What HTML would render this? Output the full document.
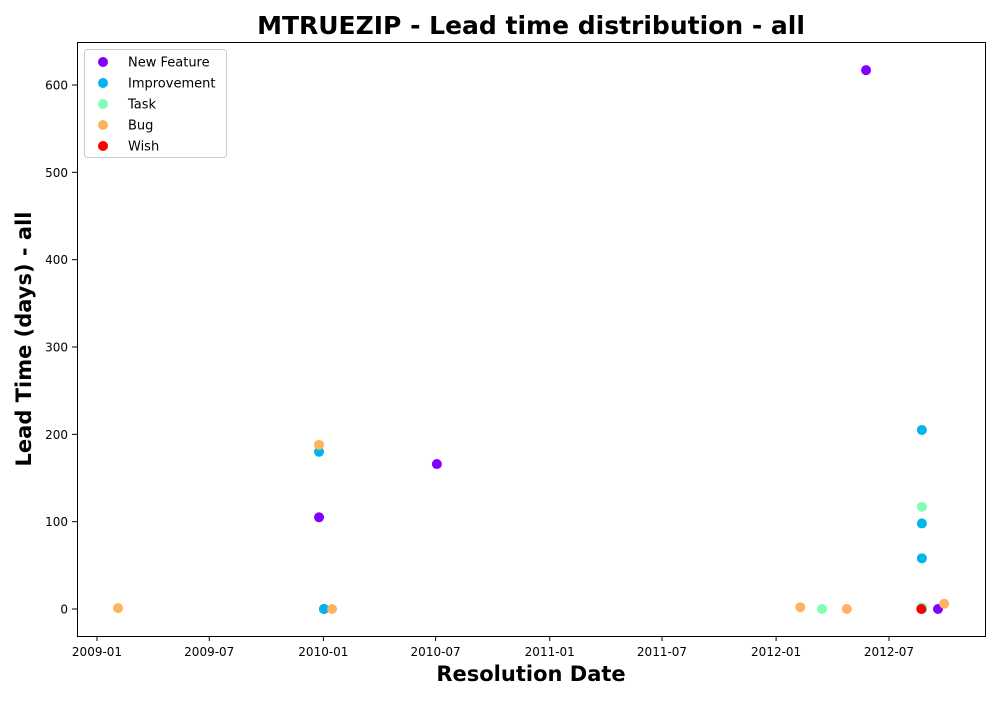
<!DOCTYPE html>
<html><head><meta charset="utf-8"><style>
body{margin:0;background:#fff;font-family:"Liberation Sans","DejaVu Sans",sans-serif;}
</style></head><body>
<svg id="chart" width="1000" height="700" xmlns="http://www.w3.org/2000/svg" font-family="DejaVu Sans, Liberation Sans, sans-serif">
<rect width="1000" height="700" fill="#fff"/>
<text x="531" y="34" text-anchor="middle" font-size="25" font-weight="bold">MTRUEZIP - Lead time distribution - all</text>
<text x="531" y="681" text-anchor="middle" font-size="21" font-weight="bold">Resolution Date</text>
<text transform="translate(31,339) rotate(-90)" text-anchor="middle" font-size="21" font-weight="bold">Lead Time (days) - all</text>
<g id="ticks"></g>
<g id="points"></g>
<rect x="77.5" y="42.5" width="908" height="594" fill="none" stroke="#000" stroke-width="1"/>
<g id="legend"></g>
</svg>
<script>
const seriesNames=["New Feature","Improvement","Task","Bug","Wish"];
const seriesColors=["#8000ff","#00b4ec","#80ffb4","#ffb360","#ff0000"];
const newFeatureDates=["2009-12-25","2010-07-03","2012-05-25","2012-09-18","2010-01-02"];
const newFeatureValues=[105,166,617,0,0];
const improvementDates=["2009-12-25","2010-01-02","2012-08-23","2012-08-23","2012-08-23","2012-08-23"];
const improvementValues=[180,0,205,98,58,0];
const taskDates=["2012-03-15","2012-08-23","2012-08-23"];
const taskValues=[0,117,2];
const bugDates=["2009-02-04","2009-12-25","2010-01-15","2012-02-09","2012-04-24","2012-09-28"];
const bugValues=[1,188,0,2,0,6];
const wishDates=["2012-08-22"];
const wishValues=[0];
const xTickLabels=["2009-01","2009-07","2010-01","2010-07","2011-01","2011-07","2012-01","2012-07"];
const yTickValues=[0,100,200,300,400,500,600];

const NS="http://www.w3.org/2000/svg";
const day=86400000;
const t0=Date.UTC(2009,0,1);
function xScale(s){const p=s.split("-").map(Number);const d=(Date.UTC(p[0],p[1]-1,p[2]||1)-t0)/day;return 97+d*0.62020;}
function yScale(v){return 609-v*0.87333;}
function mk(tag,attrs,parent){const e=document.createElementNS(NS,tag);for(const k in attrs)e.setAttribute(k,attrs[k]);parent.appendChild(e);return e;}
const ticks=document.getElementById("ticks");
xTickLabels.forEach(l=>{const x=xScale(l);
 const tk=mk("line",{x1:x,x2:x,y1:636,y2:641,stroke:"#000"},ticks);
 
 
 const t=mk("text",{x:x,y:656,"text-anchor":"middle","font-size":"12"},ticks);t.textContent=l;
 
 });
yTickValues.forEach(v=>{const y=yScale(v);
 const tk=mk("line",{x1:72,x2:77,y1:y,y2:y,stroke:"#000"},ticks);
 
 
 const t=mk("text",{x:68,y:y+4.5,"text-anchor":"end","font-size":"12"},ticks);t.textContent=v;
 
 });
const allDates=[newFeatureDates,improvementDates,taskDates,bugDates,wishDates];
const allVals=[newFeatureValues,improvementValues,taskValues,bugValues,wishValues];
const pts=document.getElementById("points");
allDates.forEach((ds,i)=>ds.forEach((d,j)=>{
 const c=mk("circle",{cx:xScale(d),cy:yScale(allVals[i][j]),r:5,fill:seriesColors[i]},pts);
 
 
}));
const lg=document.getElementById("legend");
const box=mk("rect",{x:84.5,y:49.5,width:142,height:108,rx:3,fill:"#fff","fill-opacity":0.8,stroke:"#ccc"},lg);


seriesNames.forEach((n,i)=>{const y=62+i*21;
 const c=mk("circle",{cx:103,cy:y,r:5,fill:seriesColors[i]},lg);
 
 
 const t=mk("text",{x:128,y:y+4.5,"font-size":"13"},lg);t.textContent=n;
 
 });
</script>
</body></html>
